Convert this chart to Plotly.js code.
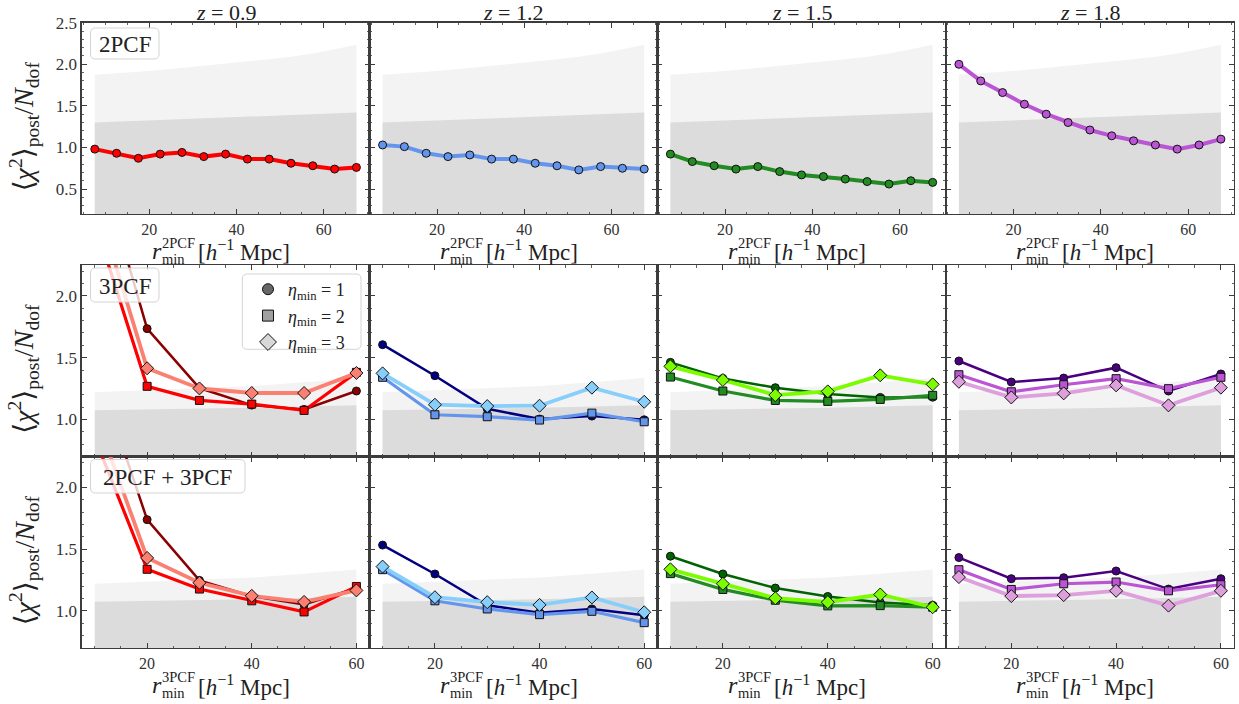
<!DOCTYPE html>
<html><head><meta charset="utf-8">
<script src="https://cdn.plot.ly/plotly-3.0.1.min.js"></script>
<style>html,body{margin:0;padding:0;background:#fff;} #chart{width:1239px;height:704px;}</style>
</head><body><div id="chart"></div>
<script>
const W = 1239, H = 704;
const FONT = 'Liberation Serif, DejaVu Serif, serif';

const zLabels = ['0.9', '1.2', '1.5', '1.8'];
const r2pcf = [7.5, 12.5, 17.5, 22.5, 27.5, 32.5, 37.5, 42.5, 47.5, 52.5, 57.5, 62.5, 67.5];
const r3pcf = [10, 20, 30, 40, 50, 60];

// 2PCF reduced chi2 vs r_min
const chi2_2pcf_z09 = [0.98, 0.93, 0.87, 0.92, 0.94, 0.89, 0.92, 0.86, 0.86, 0.81, 0.78, 0.74, 0.76];
const chi2_2pcf_z12 = [1.03, 1.01, 0.93, 0.89, 0.91, 0.86, 0.86, 0.81, 0.78, 0.73, 0.77, 0.75, 0.74];
const chi2_2pcf_z15 = [0.92, 0.83, 0.78, 0.74, 0.77, 0.71, 0.67, 0.65, 0.62, 0.59, 0.56, 0.60, 0.58];
const chi2_2pcf_z18 = [2.00, 1.80, 1.66, 1.52, 1.40, 1.30, 1.21, 1.14, 1.08, 1.03, 0.98, 1.03, 1.10];

// expected scatter bands (1 sigma / 2 sigma upper edges)
const band2pcf_1sig = [1.30, 1.31, 1.32, 1.33, 1.34, 1.35, 1.36, 1.37, 1.38, 1.39, 1.40, 1.41, 1.42];
const band2pcf_2sig = [1.875, 1.89, 1.91, 1.93, 1.955, 1.98, 2.005, 2.03, 2.06, 2.09, 2.13, 2.18, 2.235];
const band3pcf_1sig = [1.075, 1.08, 1.09, 1.095, 1.105, 1.115];
const band3pcf_2sig = [1.22, 1.235, 1.25, 1.27, 1.30, 1.335];

// 3PCF
const chi2_3pcf_z09_eta1 = [3.2, 1.735, 1.254, 1.116, 1.081, 1.230];
const chi2_3pcf_z09_eta2 = [2.6, 1.268, 1.154, 1.124, 1.073, 1.381];
const chi2_3pcf_z09_eta3 = [2.8, 1.414, 1.251, 1.214, 1.214, 1.376];
const chi2_3pcf_z12_eta1 = [1.605, 1.354, 1.086, 1.003, 1.027, 0.997];
const chi2_3pcf_z12_eta2 = [1.341, 1.038, 1.022, 0.995, 1.051, 0.981];
const chi2_3pcf_z12_eta3 = [1.373, 1.119, 1.108, 1.111, 1.257, 1.143];
const chi2_3pcf_z15_eta1 = [1.462, 1.332, 1.257, 1.205, 1.178, 1.180];
const chi2_3pcf_z15_eta2 = [1.343, 1.230, 1.154, 1.146, 1.162, 1.195];
const chi2_3pcf_z15_eta3 = [1.430, 1.319, 1.197, 1.227, 1.357, 1.284];
const chi2_3pcf_z18_eta1 = [1.473, 1.303, 1.335, 1.419, 1.230, 1.368];
const chi2_3pcf_z18_eta2 = [1.362, 1.224, 1.281, 1.330, 1.249, 1.341];
const chi2_3pcf_z18_eta3 = [1.305, 1.178, 1.211, 1.276, 1.114, 1.257];

// 2PCF + 3PCF
const chi2_joint_z09_eta1 = [3.0, 1.739, 1.247, 1.120, 1.052, 1.185];
const chi2_joint_z09_eta2 = [2.4, 1.337, 1.177, 1.082, 0.992, 1.198];
const chi2_joint_z09_eta3 = [2.6, 1.429, 1.228, 1.122, 1.073, 1.166];
const chi2_joint_z12_eta1 = [1.533, 1.299, 1.046, 0.986, 1.016, 0.965];
const chi2_joint_z12_eta2 = [1.334, 1.082, 1.016, 0.970, 0.997, 0.905];
const chi2_joint_z12_eta3 = [1.359, 1.111, 1.071, 1.049, 1.109, 0.989];
const chi2_joint_z15_eta1 = [1.443, 1.299, 1.185, 1.117, 1.068, 1.046];
const chi2_joint_z15_eta2 = [1.302, 1.174, 1.087, 1.041, 1.043, 1.030];
const chi2_joint_z15_eta3 = [1.337, 1.220, 1.103, 1.071, 1.133, 1.030];
const chi2_joint_z18_eta1 = [1.432, 1.261, 1.269, 1.323, 1.177, 1.261];
const chi2_joint_z18_eta2 = [1.334, 1.174, 1.220, 1.234, 1.163, 1.212];
const chi2_joint_z18_eta3 = [1.274, 1.120, 1.128, 1.163, 1.043, 1.163];

const etaLabels = ['1', '2', '3'];
const panelLabels = ['2PCF', '3PCF', '2PCF + 3PCF'];

// ---------- styling ----------
const colors2pcf = ['#ff0000', '#6495ed', '#228b22', '#ba55d3'];
const colors3 = [
  ['#8b0000', '#ff0000', '#fa8072'],
  ['#000080', '#6495ed', '#87cefa'],
  ['#006400', '#228b22', '#7cfc00'],
  ['#4b0082', '#ba55d3', '#dda0dd']
];
const etaSymbols = ['circle', 'square', 'diamond'];
const etaSizes = [8, 8, 10];
const etaWidths = [2.5, 3.2, 3.8];
const legendColors = ['#666666', '#a0a0a0', '#d8d8d8'];

const data2pcf = [chi2_2pcf_z09, chi2_2pcf_z12, chi2_2pcf_z15, chi2_2pcf_z18];
const data3pcf = [
  [chi2_3pcf_z09_eta1, chi2_3pcf_z09_eta2, chi2_3pcf_z09_eta3],
  [chi2_3pcf_z12_eta1, chi2_3pcf_z12_eta2, chi2_3pcf_z12_eta3],
  [chi2_3pcf_z15_eta1, chi2_3pcf_z15_eta2, chi2_3pcf_z15_eta3],
  [chi2_3pcf_z18_eta1, chi2_3pcf_z18_eta2, chi2_3pcf_z18_eta3]
];
const dataJoint = [
  [chi2_joint_z09_eta1, chi2_joint_z09_eta2, chi2_joint_z09_eta3],
  [chi2_joint_z12_eta1, chi2_joint_z12_eta2, chi2_joint_z12_eta3],
  [chi2_joint_z15_eta1, chi2_joint_z15_eta2, chi2_joint_z15_eta3],
  [chi2_joint_z18_eta1, chi2_joint_z18_eta2, chi2_joint_z18_eta3]
];

const px = x => x / W;
const py = y => 1 - y / H;
const colL = [81.7, 369.5, 657.3, 945.8];
const colR = [369.5, 657.3, 945.8, 1234];
const rowT = [22.7, 265, 456.5];
const rowB = [214, 456.5, 648];

const traces = [];
const layout = {
  width: W, height: H,
  margin: {l: 0, r: 0, t: 0, b: 0},
  paper_bgcolor: '#ffffff', plot_bgcolor: 'rgba(0,0,0,0)',
  font: {family: FONT, color: '#222', size: 16},
  showlegend: true,
  legend: {
    x: px(248), y: py(271), xanchor: 'left', yanchor: 'top',
    bgcolor: 'rgba(0,0,0,0)', borderwidth: 0,
    font: {family: FONT, size: 18, color: '#222'},
    tracegroupgap: 0
  },
  shapes: [], annotations: []
};

const LINEC = '#3c3c3c';
function axisSuffix(i) { return i === 0 ? '' : String(i + 1); }

for (let row = 0; row < 3; row++) {
  for (let col = 0; col < 4; col++) {
    const i = row * 4 + col;
    const s = axisSuffix(i);
    const xr = row === 0 ? [4.5, 70.5] : [7.5, 62.5];
    const yr = row === 0 ? [0.2, 2.5] : [0.7, 2.25];
    layout['xaxis' + s] = {
      domain: [px(colL[col]), px(colR[col])], range: xr, anchor: 'y' + s,
      showline: true, linecolor: LINEC, linewidth: 1.3, mirror: 'allticks',
      ticks: 'inside', ticklen: 5, tickwidth: 1, tickcolor: LINEC,
      tick0: 0, dtick: 20,
      minor: {ticks: 'inside', ticklen: 2.5, tickwidth: 0.8, tickcolor: LINEC, tick0: 0, dtick: 5, showgrid: false},
      showgrid: false, zeroline: false,
      showticklabels: row !== 1,
      tickfont: {family: FONT, size: 16, color: '#333'}
    };
    layout['yaxis' + s] = {
      domain: [py(rowB[row]), py(rowT[row])], range: yr, anchor: 'x' + s,
      showline: true, linecolor: LINEC, linewidth: 1.3, mirror: 'allticks',
      ticks: 'inside', ticklen: 5, tickwidth: 1, tickcolor: LINEC,
      tick0: 0, dtick: 0.5, tickformat: '.1f',
      minor: {ticks: 'inside', ticklen: 2.5, tickwidth: 0.8, tickcolor: LINEC, tick0: 0, dtick: 0.1, showgrid: false},
      showgrid: false, zeroline: false,
      showticklabels: col === 0,
      tickfont: {family: FONT, size: 17, color: '#333'}
    };
    const xa = 'x' + s, ya = 'y' + s;
    const bx = row === 0 ? r2pcf : r3pcf;
    const b2 = row === 0 ? band2pcf_2sig : band3pcf_2sig;
    const b1 = row === 0 ? band2pcf_1sig : band3pcf_1sig;
    traces.push({x: bx, y: b2, xaxis: xa, yaxis: ya, mode: 'lines', fill: 'tozeroy',
      fillcolor: '#f3f3f3', line: {width: 0, color: '#f3f3f3'}, showlegend: false, hoverinfo: 'skip'});
    traces.push({x: bx, y: b1, xaxis: xa, yaxis: ya, mode: 'lines', fill: 'tozeroy',
      fillcolor: '#dcdcdc', line: {width: 0, color: '#dcdcdc'}, showlegend: false, hoverinfo: 'skip'});
    if (row === 0) {
      traces.push({x: r2pcf, y: data2pcf[col], xaxis: xa, yaxis: ya, mode: 'lines+markers',
        line: {color: colors2pcf[col], width: 4},
        marker: {symbol: 'circle', size: 8, color: colors2pcf[col], line: {color: '#111', width: 1}},
        showlegend: false});
    } else {
      const src = row === 1 ? data3pcf : dataJoint;
      for (let e = 0; e < 3; e++) {
        traces.push({x: r3pcf, y: src[col][e], xaxis: xa, yaxis: ya, mode: 'lines+markers',
          line: {color: colors3[col][e], width: etaWidths[e]},
          marker: {symbol: etaSymbols[e], size: etaSizes[e], color: colors3[col][e], line: {color: '#111', width: 1}},
          showlegend: false});
      }
    }
  }
}

// legend entries
for (let e = 0; e < 3; e++) {
  traces.push({x: [null], y: [null], xaxis: 'x5', yaxis: 'y5', mode: 'markers',
    name: '<i>η</i><sub>min</sub> = ' + etaLabels[e],
    marker: {symbol: etaSymbols[e], size: etaSizes[e] + 3, color: legendColors[e], line: {color: '#111', width: 1}},
    showlegend: true});
}

// rounded boxes
function roundBox(x0, y0, x1, y1, r) {
  const X = v => px(v), Y = v => py(v);
  return 'M' + X(x0 + r) + ',' + Y(y0) +
    ' L' + X(x1 - r) + ',' + Y(y0) + ' Q' + X(x1) + ',' + Y(y0) + ' ' + X(x1) + ',' + Y(y0 + r) +
    ' L' + X(x1) + ',' + Y(y1 - r) + ' Q' + X(x1) + ',' + Y(y1) + ' ' + X(x1 - r) + ',' + Y(y1) +
    ' L' + X(x0 + r) + ',' + Y(y1) + ' Q' + X(x0) + ',' + Y(y1) + ' ' + X(x0) + ',' + Y(y1 - r) +
    ' L' + X(x0) + ',' + Y(y0 + r) + ' Q' + X(x0) + ',' + Y(y0) + ' ' + X(x0 + r) + ',' + Y(y0) + ' Z';
}
const boxes = [
  [90.5, 28, 159, 59],
  [90.5, 268, 159, 302],
  [90.5, 459.5, 245, 493]
];
boxes.forEach((b, k) => {
  layout.shapes.push({type: 'path', xref: 'paper', yref: 'paper', layer: 'above',
    path: roundBox(b[0], b[1], b[2], b[3], 5),
    fillcolor: 'rgba(255,255,255,0.8)', line: {color: '#d4d4d4', width: 1}});
  layout.annotations.push({xref: 'paper', yref: 'paper', x: px((b[0] + b[2]) / 2), y: py((b[1] + b[3]) / 2 + 1),
    text: panelLabels[k], showarrow: false, xanchor: 'center', yanchor: 'middle',
    font: {family: FONT, size: 23, color: '#222'}});
});
// legend frame
layout.shapes.push({type: 'path', xref: 'paper', yref: 'paper', layer: 'above',
  path: roundBox(242.3, 274, 361, 349.3, 5),
  fillcolor: 'rgba(255,255,255,0.8)', line: {color: '#d4d4d4', width: 1}});

// column titles
for (let col = 0; col < 4; col++) {
  layout.annotations.push({xref: 'paper', yref: 'paper', x: px((colL[col] + colR[col]) / 2), y: py(12),
    text: '<i>z</i> = ' + zLabels[col], showarrow: false, xanchor: 'center', yanchor: 'middle',
    font: {family: FONT, size: 22, color: '#222'}});
}

// y titles
const ylab = '⟨<i>χ</i><sup>2</sup>⟩<sub>post</sub>/<i>N</i><sub>dof</sub>';
for (let row = 0; row < 3; row++) {
  layout.annotations.push({xref: 'paper', yref: 'paper', x: px(24), y: py((rowT[row] + rowB[row]) / 2 + 8),
    text: ylab, textangle: -90, showarrow: false, xanchor: 'center', yanchor: 'middle',
    font: {family: FONT, size: 28, color: '#222'}});
}

// x titles (stacked super/subscripts)
const xsup = ['2PCF', null, '3PCF'];
[0, 2].forEach(row => {
  const base = rowB[row];
  for (let col = 0; col < 4; col++) {
    const o = colL[col] - 81.7;
    layout.annotations.push({xref: 'paper', yref: 'paper', x: px(164 + o), y: py(base + 37),
      text: '<i>r</i>', showarrow: false, xanchor: 'right', yanchor: 'middle',
      font: {family: FONT, size: 24, color: '#222'}});
    layout.annotations.push({xref: 'paper', yref: 'paper', x: px(160 + o), y: py(base + 29),
      text: xsup[row], showarrow: false, xanchor: 'left', yanchor: 'middle',
      font: {family: FONT, size: 14.5, color: '#222'}});
    layout.annotations.push({xref: 'paper', yref: 'paper', x: px(160 + o), y: py(base + 45),
      text: 'min', showarrow: false, xanchor: 'left', yanchor: 'middle',
      font: {family: FONT, size: 14.5, color: '#222'}});
    layout.annotations.push({xref: 'paper', yref: 'paper', x: px(196 + o), y: py(base + 37),
      text: '[<i>h</i><sup>−1</sup> Mpc]', showarrow: false, xanchor: 'left', yanchor: 'middle',
      font: {family: FONT, size: 23, color: '#222'}});
  }
});

Plotly.newPlot('chart', traces, layout, {displayModeBar: false, staticPlot: true});
</script>
</body></html>
